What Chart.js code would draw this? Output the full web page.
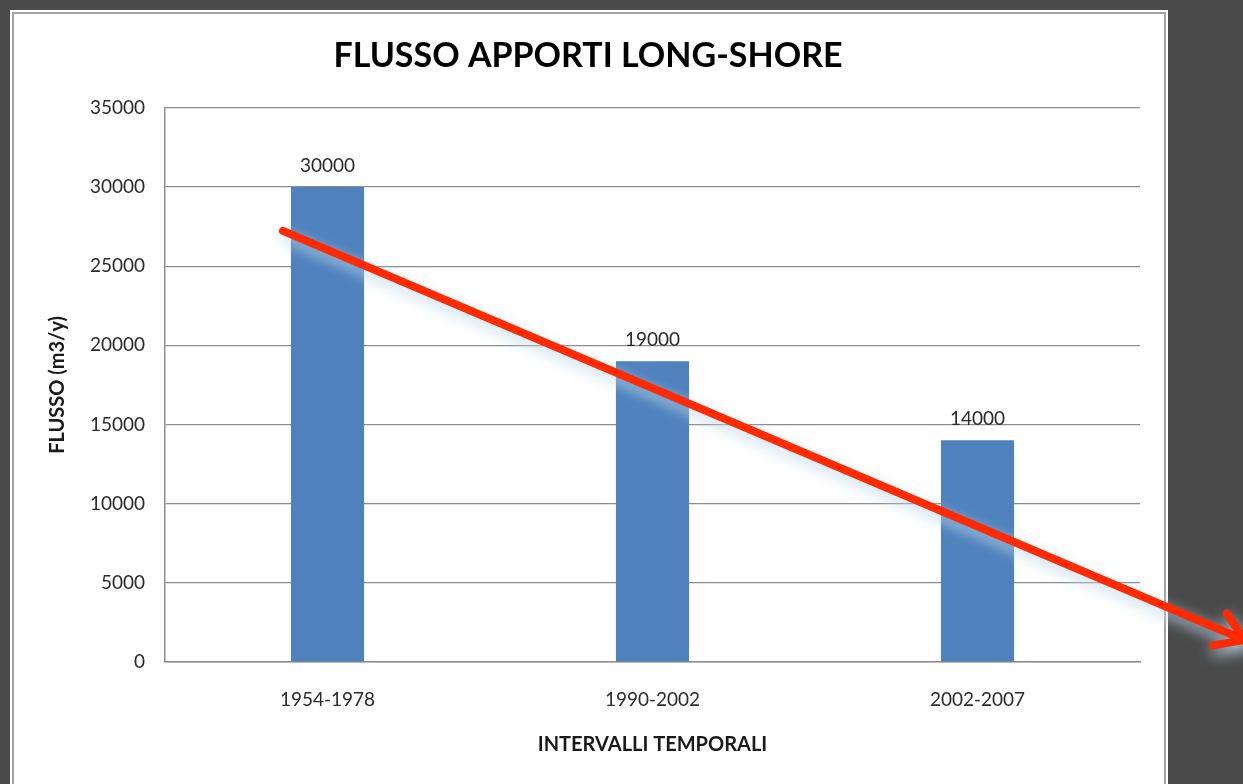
<!DOCTYPE html>
<html><head><meta charset="utf-8">
<script src="https://cdn.jsdelivr.net/npm/chart.js@4.4.1/dist/chart.umd.min.js"></script>
<style>html,body{margin:0;padding:0;background:#4a4a4a;overflow:hidden}canvas{display:block}</style>
</head><body><canvas id="c" width="1243" height="784"></canvas>
<script>
const categories = ['1954-1978', '1990-2002', '2002-2007'];
const flusso = [30000, 19000, 14000];
const yMin = 0, yMax = 35000, yStep = 5000;
const chartTitle = 'FLUSSO APPORTI LONG-SHORE';
const xTitle = 'INTERVALLI TEMPORALI';
const yTitle = 'FLUSSO (m3/y)';
// trend arrow drawn over the chart, in (category index, value) space
const arrowFrom = [-0.137, 27230];
const arrowTo = [2.822, 1390];

const FONT = 'Lato, "Open Sans", sans-serif';

const panelPlugin = {
  id: 'panel',
  beforeDraw(chart) {
    const ctx = chart.ctx;
    ctx.save();
    ctx.fillStyle = '#4a4a4a';
    ctx.fillRect(0, 0, chart.width, chart.height);
    ctx.fillStyle = '#ffffff';
    ctx.fillRect(10, 10, 1158, chart.height);
    ctx.strokeStyle = '#a3a3a3';
    ctx.lineWidth = 2;
    ctx.strokeRect(13, 13, 1152, chart.height + 20);
    ctx.restore();
  }
};

const valueLabels = {
  id: 'valueLabels',
  afterDatasetsDraw(chart) {
    const ctx = chart.ctx;
    const meta = chart.getDatasetMeta(0);
    ctx.save();
    ctx.font = '19px ' + FONT;
    ctx.fillStyle = '#2b2b2b';
    ctx.textAlign = 'center';
    ctx.textBaseline = 'alphabetic';
    meta.data.forEach((bar, i) => {
      ctx.fillText(String(chart.data.datasets[0].data[i]), bar.x, bar.y - 15);
    });
    ctx.restore();
  }
};

const arrowPlugin = {
  id: 'arrow',
  afterDraw(chart) {
    const xs = chart.scales.x, ys = chart.scales.y;
    const x1 = xs.getPixelForValue(arrowFrom[0]), y1 = ys.getPixelForValue(arrowFrom[1]);
    const x2 = xs.getPixelForValue(arrowTo[0]), y2 = ys.getPixelForValue(arrowTo[1]);
    const ang = Math.atan2(y2 - y1, x2 - x1);
    const head = 32, spread = Math.PI / 5.5;
    const ctx = chart.ctx;
    ctx.save();
    ctx.strokeStyle = '#ff2a00';
    ctx.lineWidth = 8;
    ctx.lineCap = 'round';
    ctx.lineJoin = 'round';
    ctx.shadowColor = 'rgba(185,215,232,0.95)';
    ctx.shadowBlur = 14;
    ctx.shadowOffsetX = 2;
    ctx.shadowOffsetY = 6;
    ctx.beginPath();
    ctx.moveTo(x1, y1);
    ctx.lineTo(x2, y2);
    ctx.moveTo(x2 - head * Math.cos(ang - spread), y2 - head * Math.sin(ang - spread));
    ctx.lineTo(x2, y2);
    ctx.lineTo(x2 - head * Math.cos(ang + spread), y2 - head * Math.sin(ang + spread));
    ctx.stroke();
    ctx.restore();
  }
};

new Chart(document.getElementById('c'), {
  type: 'bar',
  data: {
    labels: categories,
    datasets: [{
      data: flusso,
      backgroundColor: '#4f81bd',
      borderWidth: 0,
      categoryPercentage: 1,
      barPercentage: 0.225
    }]
  },
  options: {
    responsive: false,
    animation: false,
    devicePixelRatio: 1,
    layout: { padding: { top: 0, left: 36, right: 103, bottom: 0 } },
    plugins: {
      legend: { display: false },
      tooltip: { enabled: false },
      title: {
        display: true,
        text: chartTitle,
        color: '#000000',
        font: { family: FONT, size: 34, weight: 'bold', lineHeight: 1.2 },
        padding: { top: 36, bottom: 31 }
      }
    },
    scales: {
      x: {
        grid: { display: false, drawTicks: false },
        border: { display: true, color: '#8c8c8c', width: 1.5 },
        ticks: { color: '#2b2b2b', font: { family: FONT, size: 19 }, padding: 26 },
        title: {
          display: true, text: xTitle, color: '#1a1a1a',
          font: { family: FONT, size: 20, weight: 'bold', lineHeight: 1.2 },
          padding: { top: 0, bottom: 27 }
        },
        afterFit(s) { s.height = 122; }
      },
      y: {
        min: yMin, max: yMax,
        grid: { color: '#8c8c8c', lineWidth: 1.2, drawTicks: false },
        border: { display: true, color: '#8c8c8c', width: 1.5 },
        ticks: {
          stepSize: yStep, color: '#2b2b2b', font: { family: FONT, size: 19 }, padding: 20,
          callback: v => String(v)
        },
        title: {
          display: true, text: yTitle, color: '#1a1a1a',
          font: { family: FONT, size: 20, weight: 'bold', lineHeight: 1.2 },
          padding: { top: 10, bottom: 0 }
        },
        afterFit(s) { s.width = 129; }
      }
    }
  },
  plugins: [panelPlugin, valueLabels, arrowPlugin]
});
</script>
</body></html>
